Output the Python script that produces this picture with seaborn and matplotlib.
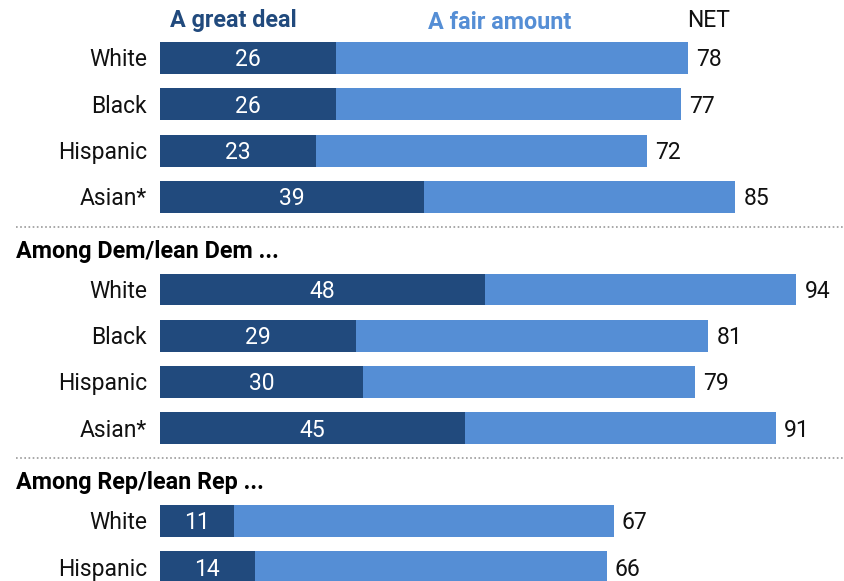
import matplotlib
matplotlib.use("Agg")
import matplotlib.pyplot as plt
from matplotlib import font_manager
import seaborn as sns
import pandas as pd

# Survey shares by group
groups = ["", "Among Dem/lean Dem ...", "Among Rep/lean Rep ..."]
labels = [
    ["White", "Black", "Hispanic", "Asian*"],
    ["White", "Black", "Hispanic", "Asian*"],
    ["White", "Hispanic"],
]
great_deal = [[26, 26, 23, 39], [48, 29, 30, 45], [11, 14]]
net = [[78, 77, 72, 85], [94, 81, 79, 91], [67, 66]]

DARK = "#214a7d"
LIGHT = "#558ed5"

sns.set_theme(style="white")
installed = {f.name for f in font_manager.fontManager.ttflist}
candidates = ["Roboto", "Roboto Condensed", "Liberation Sans"]
base = next((c for c in candidates if c in installed), "DejaVu Sans")
plt.rcParams["font.family"] = [base, "DejaVu Sans"]

# Row positions: one row per bar, one blank row between groups
rows = []
pos = 0
header_pos = []
sep_pos = []
for g, labs in enumerate(labels):
    if g > 0:
        sep_pos.append(pos - 1.35)
        header_pos.append(pos - 0.83)
    for i, lab in enumerate(labs):
        rows.append(dict(pos=pos, label=lab, great=great_deal[g][i], net=net[g][i]))
        pos += 1
    pos += 1
df = pd.DataFrame(rows)

fig = plt.figure(figsize=(8.44, 5.81), dpi=100)
ax = fig.add_axes([0, 0, 1, 1])

px_per_unit = 6.77
ax.set_xlim(-160 / px_per_unit, (844 - 160) / px_per_unit)
row_px = 46.3
ax.set_ylim((581 - 58) / row_px, -58 / row_px)

# Full bar at NET (fair amount fills the rest), dark segment on top
sns.barplot(data=df, x="net", y="pos", orient="h", native_scale=True,
            color=LIGHT, saturation=1, width=0.69, ax=ax, edgecolor="none")
sns.barplot(data=df, x="great", y="pos", orient="h", native_scale=True,
            color=DARK, saturation=1, width=0.69, ax=ax, edgecolor="none")

fs = 16.5
fsb = 16.8
dy = 0.04  # nudge text down so the glyphs sit centred on the bars
for _, r in df.iterrows():
    ax.text(-1.9, r.pos + dy, r.label, ha="right", va="center", fontsize=fs, color="#111111")
    ax.text(r.great / 2, r.pos + dy, str(r.great), ha="center", va="center",
            fontsize=fs, color="white")
    ax.text(r.net + 1.2, r.pos + dy, str(r.net), ha="left", va="center",
            fontsize=fs, color="#111111")

for hp, name in zip(header_pos, groups[1:]):
    ax.text(-21.3, hp, name, ha="left", va="center", fontsize=fsb,
            fontweight="bold", color="black")
for sp in sep_pos:
    ax.plot([-21.3, 101], [sp, sp], color="#9a9a9a", lw=1.2,
            linestyle=(0, (1, 1.5)))

ax.text(10.8, -0.8, "A great deal", ha="center", va="center", fontsize=fsb,
        fontweight="bold", color=DARK)
ax.text(50.2, -0.76, "A fair amount", ha="center", va="center", fontsize=fsb,
        fontweight="bold", color=LIGHT)
ax.text(81.0, -0.82, "NET", ha="center", va="center", fontsize=fs, color="#111111")

ax.set_axis_off()
fig.savefig("out.png", dpi=100, facecolor="white")
